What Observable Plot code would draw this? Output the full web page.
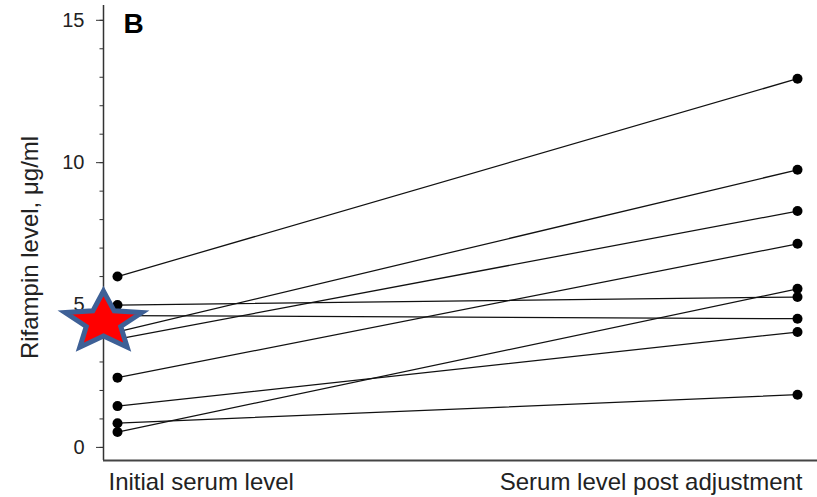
<!DOCTYPE html>
<html><head><meta charset="utf-8">
<script src="https://cdn.jsdelivr.net/npm/d3@7"></script>
<script src="https://cdn.jsdelivr.net/npm/@observablehq/plot@0.6"></script>
<style>body{margin:0;background:#fff} #chart{width:817px;height:497px}</style>
</head><body><div id="chart"></div>
<script>
// ---- data ----
const categories = ["Initial serum level", "Serum level post adjustment"];
const initialLevel = [6.0, 5.0, 4.63, 4.06, 3.8, 2.45, 1.45, 0.85, 0.54];
const postLevel    = [12.95, 5.28, 4.52, 9.75, 8.3, 7.15, 4.05, 1.85, 5.57];
const yTicksMajor = [0, 5, 10, 15];
const yTicksMinor = d3.range(0, 16);
const yLabel = "Rifampin level, \u03bcg/ml";
const panelLabel = "B";
const starMarker = [{cat: 0, value: 4.4}];

// ---- derived table ----
const rows = [];
initialLevel.forEach((v, i) => {
  rows.push({patient: i, cat: 0, value: v});
  rows.push({patient: i, cat: 1, value: postLevel[i]});
});

const stretchedStar = {
  draw(ctx, size) {
    const ry = Math.sqrt(size / Math.PI);
    const rx = ry * 1.3;
    const inner = 0.45;
    for (let k = 0; k < 10; k++) {
      const a = -Math.PI / 2 + k * Math.PI / 5;
      const rr = k % 2 ? inner : 1;
      const x = Math.cos(a) * rr * rx, y = Math.sin(a) * rr * ry;
      if (k) ctx.lineTo(x, y); else ctx.moveTo(x, y);
    }
    ctx.closePath();
  }
};

const yMin = -0.46, yMax = 15.52;
const xMin = -14 / 680, xMax = 1 + 20 / 680;
const font = "'Liberation Sans', Arial, Helvetica, sans-serif";

const chart = Plot.plot({
  width: 817, height: 497,
  marginTop: 5, marginBottom: 37, marginLeft: 103, marginRight: 0,
  x: {domain: [xMin, xMax], axis: null},
  y: {domain: [yMin, yMax], axis: null},
  style: {fontFamily: font, color: "#222", background: "#fff"},
  marks: [
    Plot.axisY({ticks: yTicksMinor, tickSize: 3.5, tickFormat: () => "", label: null, stroke: "#333"}),
    Plot.axisY({ticks: yTicksMajor, tickSize: 7, tickPadding: 12, fontSize: 20, label: null, stroke: "#333", fill: "#222"}),
    Plot.ruleX([xMin], {stroke: "#333", strokeWidth: 1.5}),
    Plot.ruleY([yMin], {stroke: "#444", strokeWidth: 1.8}),
    Plot.line(rows, {x: "cat", y: "value", z: "patient", stroke: "#111", strokeWidth: 1.25}),
    Plot.dot(rows, {x: "cat", y: "value", r: 5, fill: "#000"}),
    Plot.text([0], {x: d => d, y: () => yMin, text: d => categories[d], textAnchor: "start", lineAnchor: "top", dx: -9, dy: 12, fontSize: 24, fill: "#222"}),
    Plot.text([1], {x: d => d, y: () => yMin, text: d => categories[d], textAnchor: "end", lineAnchor: "top", dx: 5, dy: 12, fontSize: 24, fill: "#222"}),
    Plot.text([yLabel], {frameAnchor: "left", textAnchor: "middle", rotate: -90, dx: -73, dy: 14.5, fontSize: 24, fill: "#222"}),
    Plot.text([panelLabel], {frameAnchor: "top-left", textAnchor: "start", lineAnchor: "top", dx: 20, dy: 8, fontSize: 28, fontWeight: "bold", fill: "#000"}),
    Plot.dot(starMarker, {x: "cat", y: "value", dx: -14, symbol: stretchedStar, r: 31, fill: "#ff0000", stroke: "#3e6096", strokeWidth: 5})
  ]
});
document.getElementById("chart").appendChild(chart);
</script>
</body></html>
